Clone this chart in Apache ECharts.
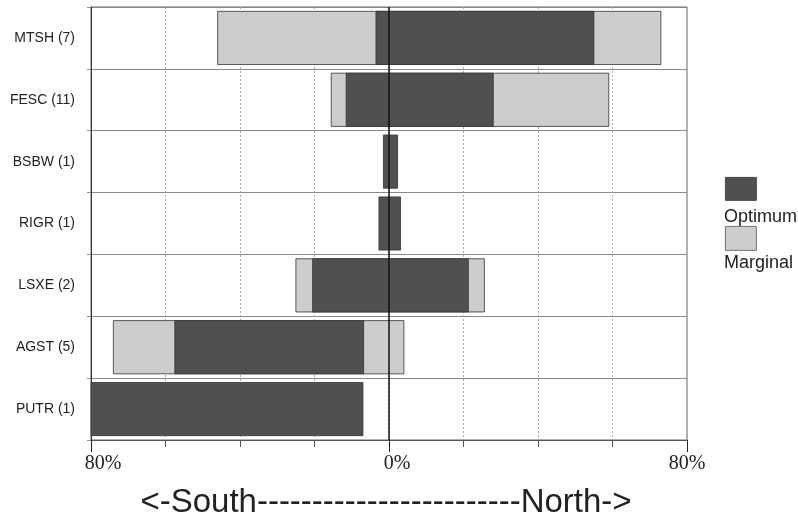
<!DOCTYPE html>
<html>
<head>
<meta charset="utf-8">
<script src="https://cdn.jsdelivr.net/npm/echarts@6/dist/echarts.min.js"></script>
<style>
html,body{margin:0;padding:0;background:#fff;}
#chart{width:798px;height:517px;}
</style>
</head>
<body>
<div id="chart"></div>
<script>
const categories = ['MTSH (7)', 'FESC (11)', 'BSBW (1)', 'RIGR (1)', 'LSXE (2)', 'AGST (5)', 'PUTR (1)'];
const marginalStart = [-46, -15.5, null, null, -25, -74, null];
const optimumStart  = [-3.5, -11.5, -1.5, -2.7, -20.5, -57.5, -80];
const optimumEnd    = [55, 28, 2.3, 3.1, 21.3, -6.8, -7];
const marginalEnd   = [73, 59, null, null, 25.6, 4, null];
const tickLabels = ['80%', '0%', '80%'];
const axisTitle = '<-South------------------------North->';
const legendNames = ['Optimum', 'Marginal'];

const DARK = '#505050';
const LIGHT = '#cdcdcd';

const marginalData = [];
const optimumData = [];
categories.forEach((c, i) => {
  if (marginalStart[i] != null) marginalData.push([i, marginalStart[i], marginalEnd[i]]);
  optimumData.push([i, optimumStart[i], optimumEnd[i]]);
});

function makeRender(fill) {
  return function (params, api) {
    const cat = api.value(0);
    const p1 = api.coord([api.value(1), cat]);
    const p2 = api.coord([api.value(2), cat]);
    const h = api.size([0, 1])[1] * 0.86;
    return {
      type: 'rect',
      shape: { x: p1[0], y: p1[1] - h / 2, width: p2[0] - p1[0], height: h },
      style: { fill: fill, stroke: '#333', lineWidth: 0.8 }
    };
  };
}

const chart = echarts.init(document.getElementById('chart'), null, { renderer: 'canvas' });
chart.setOption({
  animation: false,
  backgroundColor: '#fff',
  grid: { left: 91, right: 111, top: 7, bottom: 77, show: true, borderColor: '#666', borderWidth: 1 },
  xAxis: [
    {
      type: 'value', position: 'bottom', min: -80, max: 80, interval: 20,
      axisLine: { show: true, lineStyle: { color: '#555' } },
      axisTick: { show: true, length: 7, lineStyle: { color: '#555' } },
      axisLabel: { show: false },
      splitLine: { show: true, lineStyle: { color: '#aaa', type: [2, 2], width: 1 } }
    },
    {
      type: 'value', position: 'bottom', min: -80, max: 80, interval: 80,
      axisLine: { show: false },
      axisTick: { show: true, length: 12, lineStyle: { color: '#222' } },
      splitLine: { show: false },
      axisLabel: {
        show: true, margin: 14,
        fontFamily: 'Liberation Serif', fontSize: 20, color: '#222',
        formatter: function (v) {
          const idx = Math.round((v + 80) / 80);
          const styles = ['l', 'm', 'r'];
          return '{' + styles[idx] + '|' + tickLabels[idx] + '}';
        },
        rich: {
          l: { fontFamily: 'Liberation Serif', fontSize: 20, color: '#222', padding: [0, 0, 0, 24] },
          m: { fontFamily: 'Liberation Serif', fontSize: 20, color: '#222', padding: [0, 0, 0, 16] },
          r: { fontFamily: 'Liberation Serif', fontSize: 20, color: '#222', padding: [0, 0, 0, 0] }
        }
      }
    }
  ],
  yAxis: {
    type: 'category', data: categories, inverse: true,
    axisLine: { show: true, onZero: false, lineStyle: { color: '#333' } },
    axisTick: { show: true, length: 4, lineStyle: { color: '#888' } },
    axisLabel: { margin: 16, fontFamily: 'Liberation Sans', fontSize: 14, color: '#222' },
    splitLine: { show: true, lineStyle: { color: '#888', width: 1 } }
  },
  series: [
    {
      type: 'custom', name: 'Marginal', renderItem: makeRender(LIGHT),
      encode: { x: [1, 2], y: 0 }, data: marginalData, z: 2
    },
    {
      type: 'custom', name: 'Optimum', renderItem: makeRender(DARK),
      encode: { x: [1, 2], y: 0 }, data: optimumData, z: 3,
      markLine: {
        silent: true, symbol: 'none', label: { show: false },
        lineStyle: { color: '#111', type: 'solid', width: 1.5 },
        data: [{ xAxis: 0 }]
      }
    }
  ],
  graphic: [
    { type: 'rect', left: 725, top: 177, shape: { width: 31, height: 23 }, style: { fill: DARK, stroke: '#333', lineWidth: 0.8 } },
    { type: 'text', left: 724, top: 208, style: { text: legendNames[0], font: '18px "Liberation Sans"', fill: '#222' } },
    { type: 'rect', left: 725, top: 226, shape: { width: 31, height: 24 }, style: { fill: LIGHT, stroke: '#555', lineWidth: 0.8 } },
    { type: 'text', left: 724, top: 254, style: { text: legendNames[1], font: '18px "Liberation Sans"', fill: '#222' } },
    { type: 'text', x: 386, y: 503, style: { text: axisTitle, font: '33px "Liberation Sans"', fill: '#222', align: 'center', verticalAlign: 'middle' } }
  ]
});
</script>
</body>
</html>
